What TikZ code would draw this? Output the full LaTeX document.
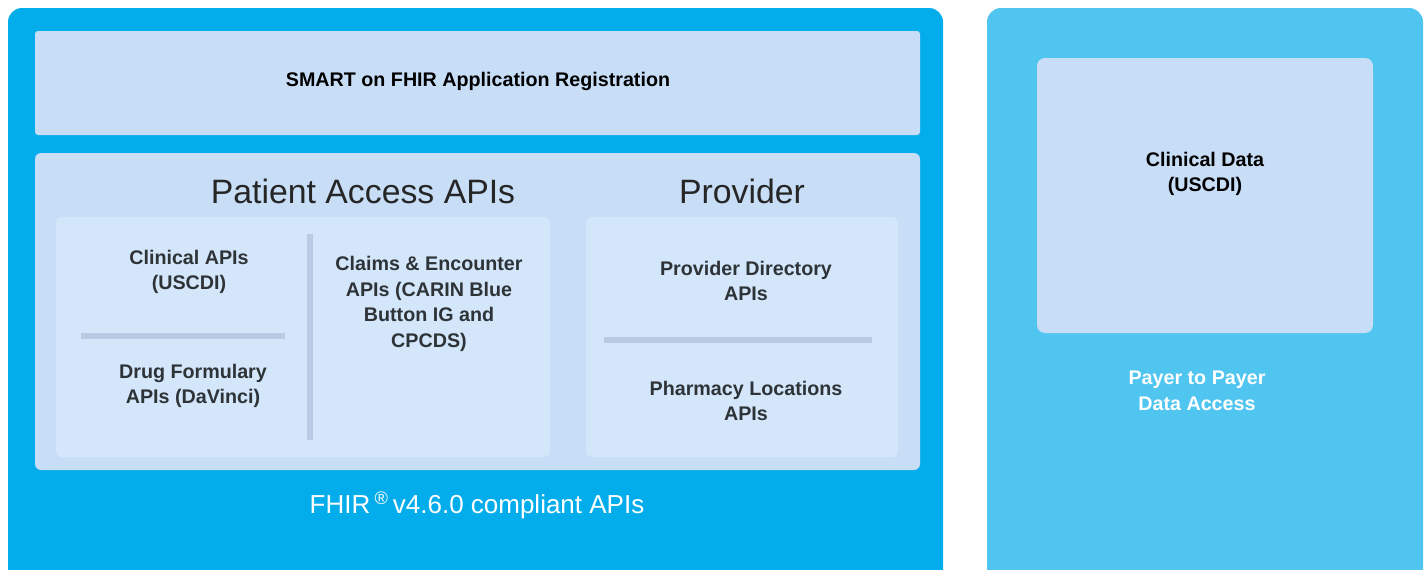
\documentclass[tikz,border=0pt]{standalone}
\usepackage{fontspec}
\setmainfont{Liberation Sans}
\usetikzlibrary{positioning}

\definecolor{outerblue}{RGB}{3,173,235}
\definecolor{payerblue}{RGB}{80,197,240}
\definecolor{panelblue}{RGB}{200,222,247}
\definecolor{cardblue}{RGB}{211,230,250}
\definecolor{rulegray}{RGB}{184,203,226}
\definecolor{textgray}{RGB}{46,51,56}

\tikzset{
  panel/.style={fill=panelblue, rounded corners=6pt},
  card/.style={fill=cardblue, rounded corners=6pt},
  divider/.style={rulegray, line width=6pt},
  apitext/.style={font=\fontsize{19.7}{25.5}\selectfont\bfseries, text=textgray, align=center},
  headtext/.style={font=\fontsize{33.8}{38}\selectfont, text=black!85},
  notetext/.style={font=\fontsize{19.7}{25.5}\selectfont\bfseries, text=white, align=center},
}

\begin{document}
\begin{tikzpicture}[x=1pt,y=-1pt]
\useasboundingbox (0,0) rectangle (1428,570);
\clip (0,0) rectangle (1428,570);

% outer blocks
\fill[outerblue, rounded corners=14pt] (8,8) rectangle (943,610);
\fill[payerblue, rounded corners=14pt] (987,8) rectangle (1423,610);

% registration + api panels
\fill[panel, rounded corners=3pt] (35,31) rectangle (920,135);
\fill[panel] (35,153) rectangle (920,470);
\fill[card] (56,217) rectangle (550,457);
\fill[card] (586,217) rectangle (898,457);
\fill[panel, rounded corners=8pt] (1037,58) rectangle (1373,333);

\node[apitext, text=black] (smart) at (478,81) {SMART on FHIR Application Registration};
\node[headtext] (patient) at (363,191) {Patient Access APIs};
\node[headtext] (provider) at (742,191) {Provider};

\node[apitext] (clinical) at (189,272) {Clinical APIs\\(USCDI)};
\node[apitext] (formulary) at (193,386) {Drug Formulary\\APIs (DaVinci)};
\node[apitext] (claims) at (429,304) {Claims \& Encounter\\APIs (CARIN Blue\\Button IG and\\CPCDS)};
\node[apitext] (directory) at (746,281) {Provider Directory\\APIs};
\node[apitext] (pharmacy) at (746,401) {Pharmacy Locations\\APIs};

\draw[divider] (310,234) -- (310,440);
\draw[divider] (81,336) -- (285,336);
\draw[divider] (604,340) -- (872,340);

\node[apitext, text=black] (clinicaldata) at (1205,174) {Clinical Data\\(USCDI)};
\node[notetext] (payer) at (1197,391) {Payer to Payer\\Data Access};

\node[font=\fontsize{26}{30}\selectfont, text=white] (fhir) at (477,505)
  {FHIR\,\textsuperscript{\textregistered}\,v4.6.0 compliant APIs};

\end{tikzpicture}
\end{document}
